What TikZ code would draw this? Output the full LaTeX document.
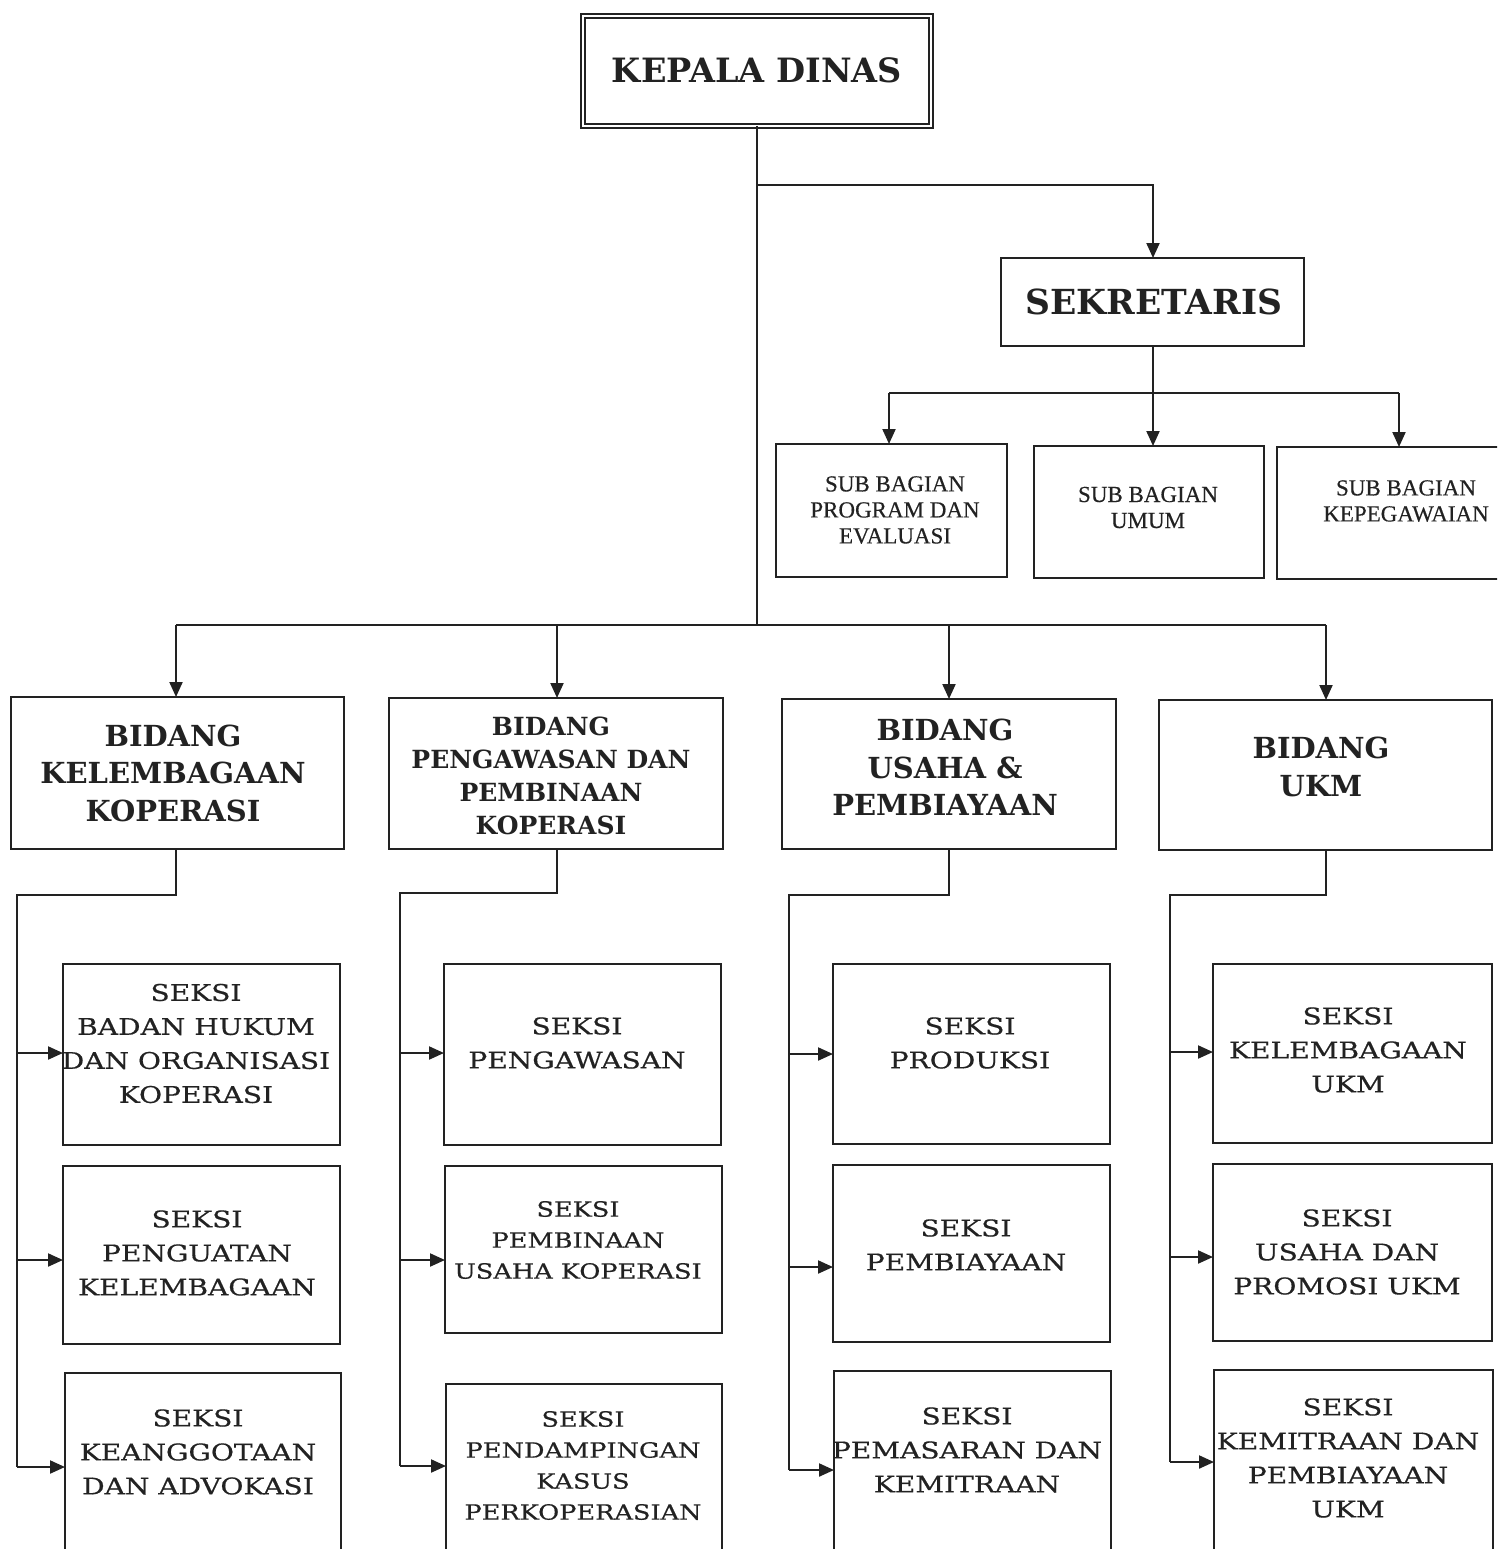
\documentclass[tikz,border=0pt]{standalone}
\usepackage{fontspec}
\usetikzlibrary{arrows.meta}
\newfontfamily\hdfont{DejaVu Serif}
\newfontfamily\skfont[FakeStretch=1.22,FakeBold=0.6]{DejaVu Serif}
\newfontfamily\sbfont[FakeBold=0.4]{Liberation Serif}
\definecolor{ink}{HTML}{222222}
\newcommand\orgbox[6][]{\node[box,#1,minimum width={#4-#2},minimum height={#5-#3}] (#6) at ({(#2+#4)/2},{(#3+#5)/2}) {};}
\tikzset{
  line/.style={draw=ink,line width=2.1pt},
  arr/.style={line,-{Triangle[length=15pt,width=13pt]}},
  box/.style={draw=ink,line width=2pt,rectangle,inner sep=0pt,outer sep=0pt},
  lbl/.style={text=ink,align=center,inner sep=0pt},
  hdA/.style={lbl,font=\hdfont\bfseries\fontsize{29}{37.5}\selectfont},
  hdB/.style={lbl,font=\hdfont\bfseries\fontsize{25}{33}\selectfont},
  skA/.style={lbl,font=\skfont\fontsize{23}{34}\selectfont},
  skB/.style={lbl,font=\skfont\fontsize{21}{31}\selectfont},
  sbA/.style={lbl,font=\sbfont\fontsize{23}{26}\selectfont},
}
\begin{document}
\begin{tikzpicture}[x=1pt,y=-1pt]
\useasboundingbox (0,0) rectangle (1497,1549);
\clip (0,0) rectangle (1497,1549);
% boxes
\orgbox[double=white,double distance=2.5pt,line width=1.7pt]{583}{16}{931}{126}{kd}
\orgbox{1001}{258}{1304}{346}{sek}
\orgbox{776}{444}{1007}{577}{sb1}
\orgbox{1034}{446}{1264}{578}{sb2}
\orgbox{1277}{447}{1530}{579}{sb3}
\orgbox{11}{697}{344}{849}{b1}
\orgbox{389}{698}{723}{849}{b2}
\orgbox{782}{699}{1116}{849}{b3}
\orgbox{1159}{700}{1492}{850}{b4}
\orgbox{63}{964}{340}{1145}{s11}
\orgbox{63}{1166}{340}{1344}{s12}
\orgbox{65}{1373}{341}{1600}{s13}
\orgbox{444}{964}{721}{1145}{s21}
\orgbox{445}{1166}{722}{1333}{s22}
\orgbox{446}{1384}{722}{1600}{s23}
\orgbox{833}{964}{1110}{1144}{s31}
\orgbox{833}{1165}{1110}{1342}{s32}
\orgbox{834}{1371}{1111}{1600}{s33}
\orgbox{1213}{964}{1492}{1143}{s41}
\orgbox{1213}{1164}{1492}{1341}{s42}
\orgbox{1214}{1370}{1493}{1600}{s43}
% texts
\node[lbl,font=\hdfont\bfseries\fontsize{33.5}{38}\selectfont] (kdt) at (757,70) {KEPALA DINAS};
\node[lbl,font=\hdfont\bfseries\fontsize{34.5}{38}\selectfont] (sekt) at (1154,302) {SEKRETARIS};
\node[sbA] (sb1t) at (895,510) {SUB BAGIAN\\PROGRAM DAN\\EVALUASI};
\node[sbA] (sb2t) at (1148,507.5) {SUB BAGIAN\\UMUM};
\node[sbA] (sb3t) at (1406,501) {SUB BAGIAN\\KEPEGAWAIAN};
\node[hdA] (b1t) at (173,773) {BIDANG\\KELEMBAGAAN\\KOPERASI};
\node[hdB] (b2t) at (551,775.5) {BIDANG\\PENGAWASAN DAN\\PEMBINAAN\\KOPERASI};
\node[hdA] (b3t) at (945,767.5) {BIDANG\\USAHA \&\\PEMBIAYAAN};
\node[hdA] (b4t) at (1321,767) {BIDANG\\UKM};
\node[skA] (s11t) at (196,1043.5) {SEKSI\\BADAN HUKUM\\DAN ORGANISASI\\KOPERASI};
\node[skA] (s12t) at (197,1253) {SEKSI\\PENGUATAN\\KELEMBAGAAN};
\node[skA] (s13t) at (198,1452) {SEKSI\\KEANGGOTAAN\\DAN ADVOKASI};
\node[skA] (s21t) at (577,1043) {SEKSI\\PENGAWASAN};
\node[skB] (s22t) at (578,1240) {SEKSI\\PEMBINAAN\\USAHA KOPERASI};
\node[skB] (s23t) at (583,1465.5) {SEKSI\\PENDAMPINGAN\\KASUS\\PERKOPERASIAN};
\node[skA] (s31t) at (970,1043) {SEKSI\\PRODUKSI};
\node[skA] (s32t) at (966,1245) {SEKSI\\PEMBIAYAAN};
\node[skA] (s33t) at (967,1450) {SEKSI\\PEMASARAN DAN\\KEMITRAAN};
\node[skA] (s41t) at (1348,1050) {SEKSI\\KELEMBAGAAN\\UKM};
\node[skA] (s42t) at (1347,1252) {SEKSI\\USAHA DAN\\PROMOSI UKM};
\node[skA] (s43t) at (1348,1458) {SEKSI\\KEMITRAAN DAN\\PEMBIAYAAN\\UKM};
% top connectors
\coordinate (t0) at (757,185);
\coordinate (t1) at (1153,185);
\coordinate (t2) at (757,625);
\draw[line] (kd.south) -- (t2);
\draw[arr] (t0) -- (t1) -- (t1 |- sek.north);
\coordinate (u0) at (1153,393);
\coordinate (ua) at (889,393);
\coordinate (uc) at (1399,393);
\draw[line] (u0 |- sek.south) -- (u0);
\draw[line] (ua) -- (uc);
\draw[arr] (ua) -- (ua |- sb1.north);
\draw[arr] (u0) -- (u0 |- sb2.north);
\draw[arr] (uc) -- (uc |- sb3.north);
% bidang
\coordinate (v1) at (176,625);
\coordinate (v2) at (557,625);
\coordinate (v3) at (949,625);
\coordinate (v4) at (1326,625);
\draw[line] (v1) -- (v4);
\draw[arr] (v1) -- (v1 |- b1.north);
\draw[arr] (v2) -- (v2 |- b2.north);
\draw[arr] (v3) -- (v3 |- b3.north);
\draw[arr] (v4) -- (v4 |- b4.north);
% seksi column 1
\coordinate (w1) at (17,895);
\coordinate (w1a) at (17,1053);
\coordinate (w1b) at (17,1260);
\coordinate (w1c) at (17,1467);
\draw[line] (v1 |- b1.south) |- (w1) -- (w1c);
\draw[arr] (w1a) -- (w1a -| s11.west);
\draw[arr] (w1b) -- (w1b -| s12.west);
\draw[arr] (w1c) -- (w1c -| s13.west);
% column 2
\coordinate (w2) at (400,893);
\coordinate (w2a) at (400,1053);
\coordinate (w2b) at (400,1260);
\coordinate (w2c) at (400,1466);
\draw[line] (v2 |- b2.south) |- (w2) -- (w2c);
\draw[arr] (w2a) -- (w2a -| s21.west);
\draw[arr] (w2b) -- (w2b -| s22.west);
\draw[arr] (w2c) -- (w2c -| s23.west);
% column 3
\coordinate (w3) at (789,895);
\coordinate (w3a) at (789,1054);
\coordinate (w3b) at (789,1267);
\coordinate (w3c) at (789,1470);
\draw[line] (v3 |- b3.south) |- (w3) -- (w3c);
\draw[arr] (w3a) -- (w3a -| s31.west);
\draw[arr] (w3b) -- (w3b -| s32.west);
\draw[arr] (w3c) -- (w3c -| s33.west);
% column 4
\coordinate (w4) at (1170,895);
\coordinate (w4a) at (1170,1052);
\coordinate (w4b) at (1170,1257);
\coordinate (w4c) at (1170,1462);
\draw[line] (v4 |- b4.south) |- (w4) -- (w4c);
\draw[arr] (w4a) -- (w4a -| s41.west);
\draw[arr] (w4b) -- (w4b -| s42.west);
\draw[arr] (w4c) -- (w4c -| s43.west);
\end{tikzpicture}
\end{document}
